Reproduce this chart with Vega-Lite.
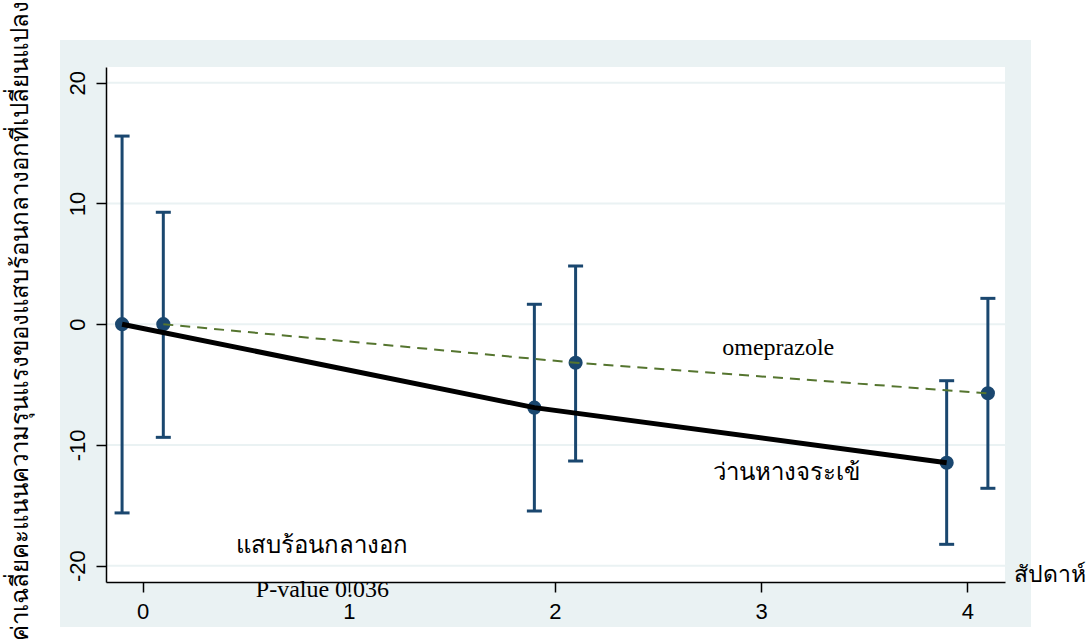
{
  "$schema": "https://vega.github.io/schema/vega-lite/v6.json",
  "width": 899,
  "height": 515,
  "autosize": {"type": "none"},
  "padding": {"left": 106, "top": 67, "right": 86, "bottom": 57},
  "background": "white",
  "config": {"view": {"stroke": null}},
  "datasets": {
    "pts": [
      {"group": "aloe", "week": -0.1, "mean": 0, "lo": -15.63, "hi": 15.58},
      {"group": "aloe", "week": 1.9, "mean": -6.91, "lo": -15.47, "hi": 1.65},
      {"group": "aloe", "week": 3.9, "mean": -11.47, "lo": -18.23, "hi": -4.68},
      {"group": "omeprazole", "week": 0.1, "mean": 0, "lo": -9.37, "hi": 9.27},
      {"group": "omeprazole", "week": 2.1, "mean": -3.19, "lo": -11.33, "hi": 4.82},
      {"group": "omeprazole", "week": 4.1, "mean": -5.72, "lo": -13.59, "hi": 2.14}
    ],
    "grid": [{"v": -20}, {"v": -10}, {"v": 0}, {"v": 10}, {"v": 20}],
    "labels": [
      {"label": "omeprazole", "lx": 3.083, "ly": -1.97},
      {"label": "ว่านหางจระเข้", "lx": 3.122, "ly": -12.3},
      {"label": "แสบร้อนกลางอก", "lx": 0.868, "ly": -18.33},
      {"label": "P-value 0.036", "lx": 0.872, "ly": -22.0}
    ]
  },
  "encoding": {
    "x": {
      "type": "quantitative",
      "scale": {"domain": [-0.178, 4.183], "nice": false, "zero": false},
      "axis": {
        "values": [0, 1, 2, 3, 4],
        "labelExpr": "datum.value + ''",
        "grid": false,
        "zindex": 1,
        "domainColor": "#000000",
        "domainWidth": 1.5,
        "tickColor": "#000000",
        "tickWidth": 1.5,
        "tickSize": 10,
        "labelFont": "Liberation Sans",
        "labelFontSize": 22,
        "labelColor": "#000000",
        "labelPadding": 9,
        "title": "สัปดาห์",
        "titleFont": "Noto Sans",
        "titleFontSize": 23,
        "titleFontWeight": "normal",
        "titleColor": "#000000",
        "titleAnchor": "start",
        "titleAlign": "left",
        "titleBaseline": "middle",
        "titleX": 907,
        "titleY": -8
      }
    },
    "y": {
      "type": "quantitative",
      "scale": {"domain": [-21.35, 21.3], "nice": false, "zero": false},
      "axis": {
        "values": [-20, -10, 0, 10, 20],
        "labelExpr": "datum.value + ''",
        "grid": false,
        "zindex": 1,
        "domainColor": "#000000",
        "domainWidth": 1.5,
        "tickColor": "#000000",
        "tickWidth": 1.5,
        "tickSize": 10,
        "labelFont": "Liberation Sans",
        "labelFontSize": 22,
        "labelColor": "#000000",
        "labelAngle": -90,
        "labelAlign": "center",
        "labelBaseline": "alphabetic",
        "labelPadding": 12,
        "title": "ค่าเฉลี่ยคะแนนความรุนแรงของแสบร้อนกลางอกที่เปลี่ยนแปลง",
        "titleFont": "Noto Sans",
        "titleFontSize": 24,
        "titleFontWeight": "normal",
        "titleColor": "#000000",
        "titleAngle": -90,
        "titleAlign": "center",
        "titleBaseline": "middle",
        "titleX": -86,
        "titleY": 253
      }
    }
  },
  "layer": [
    {
      "data": {"values": [{}]},
      "mark": {"type": "rect", "color": "#eaf2f3"},
      "encoding": {
        "x": {"datum": -0.401},
        "x2": {"datum": 4.309},
        "y": {"datum": 23.54},
        "y2": {"datum": -25.08}
      }
    },
    {
      "data": {"values": [{}]},
      "mark": {"type": "rect", "color": "#ffffff"},
      "encoding": {
        "x": {"datum": -0.178},
        "x2": {"datum": 4.183},
        "y": {"datum": 21.3},
        "y2": {"datum": -21.35}
      }
    },
    {
      "data": {"name": "grid"},
      "mark": {"type": "rule", "color": "#eaf2f3", "strokeWidth": 2},
      "encoding": {
        "y": {"field": "v"},
        "x": {"datum": -0.178},
        "x2": {"datum": 4.183}
      }
    },
    {
      "data": {"name": "pts"},
      "mark": {"type": "rule", "color": "#1a476f", "strokeWidth": 3},
      "encoding": {
        "x": {"field": "week"},
        "y": {"field": "lo"},
        "y2": {"field": "hi"}
      }
    },
    {
      "data": {"name": "pts"},
      "mark": {"type": "tick", "orient": "horizontal", "color": "#1a476f", "size": 15, "thickness": 3, "opacity": 1},
      "encoding": {
        "x": {"field": "week"},
        "y": {"field": "hi"}
      }
    },
    {
      "data": {"name": "pts"},
      "mark": {"type": "tick", "orient": "horizontal", "color": "#1a476f", "size": 15, "thickness": 3, "opacity": 1},
      "encoding": {
        "x": {"field": "week"},
        "y": {"field": "lo"}
      }
    },
    {
      "data": {"name": "pts"},
      "mark": {"type": "point", "shape": "circle", "filled": true, "color": "#1a476f", "size": 200, "opacity": 1},
      "encoding": {
        "x": {"field": "week"},
        "y": {"field": "mean"}
      }
    },
    {
      "data": {"name": "pts"},
      "transform": [{"filter": "datum.group === 'omeprazole'"}],
      "mark": {"type": "line", "color": "#55752f", "strokeWidth": 2, "strokeDash": [10, 7]},
      "encoding": {
        "x": {"field": "week"},
        "y": {"field": "mean"},
        "order": {"field": "week"}
      }
    },
    {
      "data": {"name": "pts"},
      "transform": [{"filter": "datum.group === 'aloe'"}],
      "mark": {"type": "line", "color": "#000000", "strokeWidth": 5},
      "encoding": {
        "x": {"field": "week"},
        "y": {"field": "mean"},
        "order": {"field": "week"}
      }
    },
    {
      "data": {"name": "labels"},
      "mark": {"type": "text", "font": "Liberation Serif", "fontSize": 24, "color": "#000000", "align": "center", "baseline": "middle"},
      "encoding": {
        "x": {"field": "lx", "type": "quantitative"},
        "y": {"field": "ly", "type": "quantitative"},
        "text": {"field": "label"}
      }
    }
  ]
}
